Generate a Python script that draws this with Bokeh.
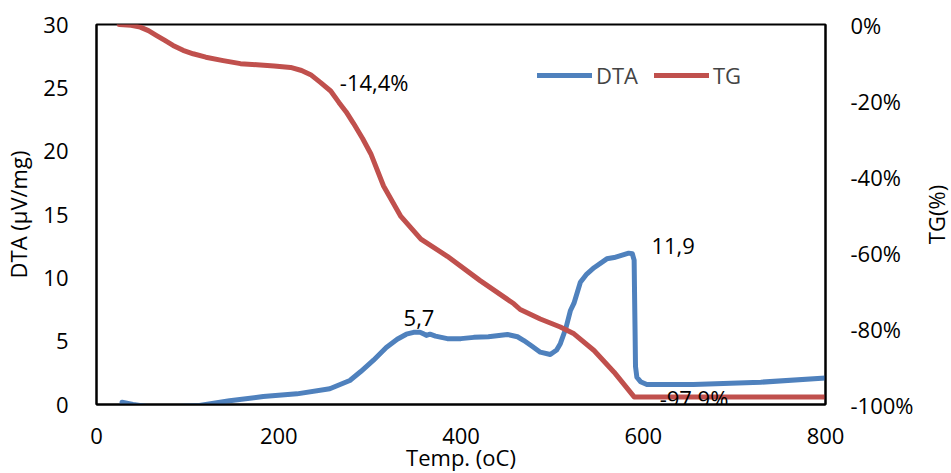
import math
from bokeh.plotting import figure
from bokeh.layouts import row
from bokeh.models import (Range1d, LinearAxis, FixedTicker, PrintfTickFormatter,
                          Legend, LegendItem, Label)
from bokeh.core.properties import value
from bokeh.embed import file_html
from bokeh.resources import INLINE

# ---- data ----
dta_temp = [28, 40, 55, 80, 113, 146, 183, 220, 256, 278, 290, 304, 318, 330, 340,
            348, 355, 359, 362, 366, 372, 385, 400, 414, 430, 451, 462, 469, 478,
            487, 498, 505, 509, 515, 520, 524, 531, 538, 546, 560, 568, 584, 588,
            590, 590.5, 591, 591.5, 593, 597, 604, 655, 729, 800]
dta_val = [0.18, 0.0, -0.16, -0.2, -0.08, 0.3, 0.63, 0.84, 1.24, 1.9, 2.6, 3.5, 4.5,
           5.15, 5.55, 5.7, 5.7, 5.58, 5.45, 5.55, 5.4, 5.2, 5.2, 5.3, 5.35, 5.53,
           5.35, 5.05, 4.6, 4.13, 3.95, 4.3, 4.8, 6.0, 7.4, 8.0, 9.65, 10.3, 10.8,
           11.5, 11.6, 11.95, 11.9, 11.4, 8.5, 5.9, 3.0, 2.15, 1.8, 1.58, 1.58, 1.76, 2.1]

tg_temp = [25, 38, 48, 57, 66, 75, 84, 95, 106, 120, 139, 158, 176, 195, 213, 225,
           235, 246, 257, 266, 274, 282, 292, 301, 315, 334, 356, 385, 421, 458,
           465, 487, 509, 524, 546, 568, 590, 800]
tg_val = [0, -0.2, -0.7, -1.6, -2.9, -4.2, -5.5, -6.8, -7.7, -8.6, -9.5, -10.3,
          -10.6, -10.9, -11.3, -12.1, -13.2, -15.3, -17.5, -20.5, -23, -26, -30,
          -34, -42.5, -50.5, -56.5, -61, -67.4, -73.5, -75, -77.5, -79.6, -81.4,
          -85.8, -91.5, -98, -98]

left_ticks = [0, 5, 10, 15, 20, 25, 30]
right_ticks = [-100, -80, -60, -40, -20, 0]
x_ticks = [0, 200, 400, 600, 800]

ann_text = ["-14,4%", "5,7", "11,9", "-97,9%"]
ann_x = [267, 337, 609, 618]
ann_y = [25.5, 6.8, 12.5, 0.55]

FONT = "Open Sans"
BLUE = "#4F81BD"
RED = "#C0504D"

p = figure(frame_width=729, frame_height=380, output_backend="svg",
           toolbar_location=None, x_range=Range1d(0, 800), y_range=Range1d(0, 30),
           min_border_left=96, min_border_top=24, min_border_right=92,
           min_border_bottom=0)
p.extra_y_ranges = {"tg": Range1d(-100, 0)}

p.xgrid.visible = False
p.ygrid.visible = False
p.outline_line_color = "black"
p.outline_line_width = 2

r_dta = p.line(dta_temp, dta_val, line_color=BLUE, line_width=5,
               line_join="round", line_cap="round")
r_tg = p.line(tg_temp, tg_val, line_color=RED, line_width=5, y_range_name="tg",
              line_join="round", line_cap="round")

ax_r = LinearAxis(y_range_name="tg")
p.add_layout(ax_r, "right")

for ax in [p.xaxis[0], p.yaxis[0], ax_r]:
    ax.major_tick_line_color = None
    ax.minor_tick_line_color = None
    ax.major_tick_out = 0
    ax.major_tick_in = 0
    ax.minor_tick_out = 0
    ax.minor_tick_in = 0
    ax.axis_line_color = "black"
    ax.axis_line_width = 2
    ax.major_label_text_font = FONT
    ax.major_label_text_font_size = "22px"
    ax.major_label_text_color = "black"
    ax.axis_label_text_font = FONT
    ax.axis_label_text_font_size = "22px"
    ax.axis_label_text_font_style = "normal"
    ax.axis_label_text_color = "black"

p.xaxis[0].ticker = FixedTicker(ticks=x_ticks)
p.xaxis[0].axis_label = "Temp. (oC)"
p.xaxis[0].major_label_standoff = 23
p.xaxis[0].axis_label_standoff = -5

p.yaxis[0].ticker = FixedTicker(ticks=left_ticks)
p.yaxis[0].axis_label = "DTA (µV/mg)"
p.yaxis[0].major_label_standoff = 28
p.yaxis[0].axis_label_standoff = 7

ax_r.ticker = FixedTicker(ticks=right_ticks)
ax_r.formatter = PrintfTickFormatter(format="%d%%")
ax_r.major_label_standoff = 25

legend = Legend(items=[LegendItem(label="DTA", renderers=[r_dta]),
                       LegendItem(label="TG", renderers=[r_tg])],
                orientation="horizontal", location=(441, 314),
                padding=0, margin=0, spacing=16, label_standoff=4,
                glyph_width=55, glyph_height=24, label_height=24,
                label_text_font=FONT, label_text_font_size="22px",
                border_line_color=None, background_fill_alpha=0)
p.add_layout(legend, "center")

for t, x, y in zip(ann_text, ann_x, ann_y):
    p.add_layout(Label(x=x, y=y, text=t, text_font=FONT, text_font_size="22px",
                       text_baseline="middle", text_align="left",
                       text_color="black"))

# narrow strip carrying the right-axis title, reading bottom-to-top
p2 = figure(frame_width=34, frame_height=380, output_backend="svg",
            toolbar_location=None, x_range=Range1d(0, 34), y_range=Range1d(0, 30),
            min_border_left=0, min_border_right=0, min_border_top=24,
            min_border_bottom=0)
p2.axis.visible = False
p2.grid.visible = False
p2.outline_line_color = None
p2.text(x=[18], y=[15], text=["TG(%)"], angle=math.pi / 2,
        text_align="center", text_baseline="middle",
        text_font=value(FONT), text_font_size="22px", text_color="black")

open("out.html", "w").write(file_html(row(p, p2), INLINE))
